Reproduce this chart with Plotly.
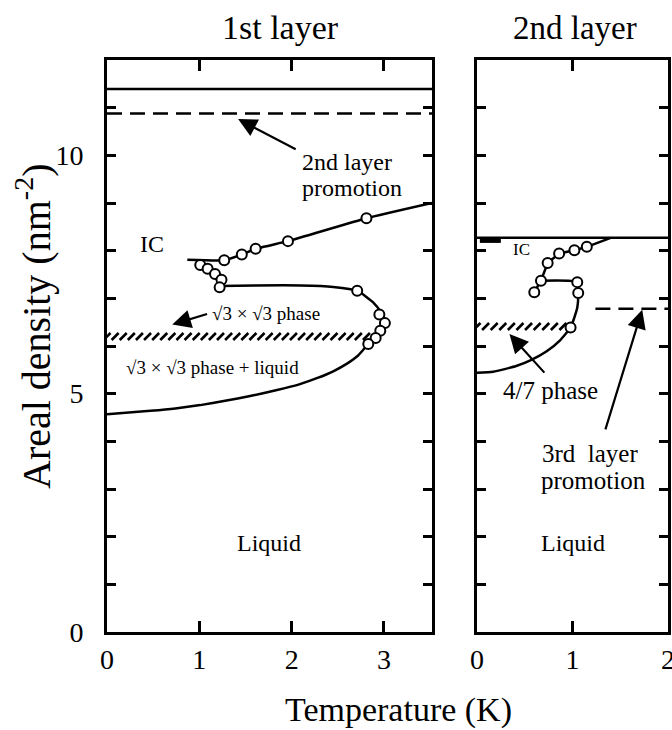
import numpy as np
import plotly.graph_objects as go

FONT = "Liberation Serif, Times New Roman, serif"

# ---------------- 1st layer (left panel) ----------------
L_top_T = [0.0, 3.52]
L_top_n = [11.39, 11.39]
L_promo_T = [0.0, 3.52]
L_promo_n = [10.88, 10.88]

L_ic_T = [0.87, 1.27, 1.46, 1.61, 1.96, 2.81, 3.52]
L_ic_n = [7.81, 7.80, 7.92, 8.04, 8.20, 8.68, 9.0]

L_bound_T = [1.22, 1.6, 2.1, 2.45, 2.71, 2.88, 2.97, 3.02, 2.98, 2.91, 2.83,
             2.72, 2.60, 2.45, 2.28, 2.09, 1.83, 1.55, 1.28, 1.01, 0.74, 0.47, 0.0]
L_bound_n = [7.26, 7.27, 7.27, 7.24, 7.16, 6.92, 6.70, 6.48, 6.32, 6.17, 6.04,
             5.80, 5.63, 5.47, 5.33, 5.20, 5.07, 4.95, 4.85, 4.76, 4.69, 4.64, 4.57]

L_pts_T = [1.27, 1.46, 1.61, 1.96, 2.81, 1.01, 1.09, 1.17, 1.24, 1.22, 2.71, 2.95, 3.01, 2.96, 2.91, 2.83]
L_pts_n = [7.80, 7.92, 8.04, 8.20, 8.68, 7.70, 7.62, 7.51, 7.39, 7.23, 7.16, 6.66, 6.48, 6.32, 6.17, 6.04]

L_hatch_T = [0.0, 2.81]
L_hatch_n = 6.2

# ---------------- 2nd layer (right panel) ----------------
R_top_T = [0.0, 2.0]
R_top_n = [8.27, 8.27]
R_promo_T = [1.24, 2.0]
R_promo_n = [6.78, 6.78]

R_chain_T = [1.40, 1.15, 1.02, 0.86, 0.74, 0.67, 0.60]
R_chain_n = [8.27, 8.08, 8.01, 7.94, 7.74, 7.37, 7.13]

R_bound_T = [0.67, 1.05, 1.06, 1.05, 0.98, 0.87, 0.73, 0.57, 0.41, 0.17, 0.0]
R_bound_n = [7.37, 7.34, 7.11, 6.80, 6.39, 6.12, 5.89, 5.71, 5.58, 5.46, 5.44]

R_pts_T = [1.15, 1.02, 0.86, 0.74, 0.67, 0.60, 1.05, 1.06, 0.98]
R_pts_n = [8.08, 8.01, 7.94, 7.74, 7.37, 7.13, 7.34, 7.11, 6.39]

R_hatch_T = [0.0, 0.9]
R_hatch_n = 6.41
R_stub_T = [0.03, 0.25]
R_stub_n = [8.21, 8.21]

y_ticks = list(range(0, 13))
y_ticktext = ["0", "", "", "", "", "5", "", "", "", "", "10", "", ""]
xL_ticks = [0, 1, 2, 3]
xR_ticks = [0, 1, 2]

fig = go.Figure()

LW = 2.5


def line(T, n, xa, ya, dash="solid", shape="linear", width=LW, smoothing=0.6):
    fig.add_trace(go.Scatter(x=T, y=n, mode="lines", xaxis=xa, yaxis=ya,
                             line=dict(color="black", width=width, dash=dash, shape=shape, smoothing=smoothing),
                             hoverinfo="skip", showlegend=False, cliponaxis=True))


def pts(T, n, xa, ya):
    fig.add_trace(go.Scatter(x=T, y=n, mode="markers", xaxis=xa, yaxis=ya,
                             marker=dict(symbol="circle", size=10, color="white",
                                         line=dict(color="black", width=2)),
                             hoverinfo="skip", showlegend=False))


def hatch(T, n0, xa, ya, spacing):
    k = int(round((T[1] - T[0]) / spacing)) + 1
    xs = np.linspace(T[0], T[1], k)
    fig.add_trace(go.Scatter(x=xs, y=[n0] * k, mode="markers", xaxis=xa, yaxis=ya,
                             marker=dict(symbol="line-ne", size=7, color="black",
                                         line=dict(color="black", width=2.6)),
                             hoverinfo="skip", showlegend=False))


# left
line(L_top_T, L_top_n, "x", "y")
line(L_promo_T, L_promo_n, "x", "y", dash="15px,8px")
line(L_ic_T, L_ic_n, "x", "y", shape="spline", smoothing=0.4)
line(L_bound_T, L_bound_n, "x", "y", shape="spline", smoothing=0.5)
hatch(L_hatch_T, L_hatch_n, "x", "y", 0.087)
pts(L_pts_T, L_pts_n, "x", "y")

# right
line(R_top_T, R_top_n, "x2", "y2")
line(R_promo_T, R_promo_n, "x2", "y2", dash="15px,8px")
line(R_chain_T, R_chain_n, "x2", "y2")
line(R_bound_T, R_bound_n, "x2", "y2", shape="spline", smoothing=0.5)
line(R_stub_T, R_stub_n, "x2", "y2", width=4.5)
hatch(R_hatch_T, R_hatch_n, "x2", "y2", 0.086)
pts(R_pts_T, R_pts_n, "x2", "y2")

axis_common = dict(showline=True, linecolor="black", linewidth=3, mirror="ticks",
                   ticks="inside", tickcolor="black", tickwidth=2.5, showgrid=False,
                   zeroline=False, ticklabeloverflow="allow", automargin=False,
                   tickfont=dict(family=FONT, size=28, color="black"))

fig.update_layout(
    width=672, height=730,
    margin=dict(l=107, r=4, t=60, b=98, autoexpand=False),
    paper_bgcolor="white", plot_bgcolor="white",
    showlegend=False,
    xaxis=dict(domain=[0, 0.5793], range=[0, 3.52], tickmode="array", tickvals=xL_ticks,
               ticklen=11, ticklabelstandoff=0, **axis_common),
    yaxis=dict(domain=[0, 1], range=[0, 12], tickmode="array", tickvals=y_ticks, ticktext=y_ticktext,
               ticklen=9, ticklabelstandoff=15, **axis_common),
    xaxis2=dict(domain=[0.6595, 1.0], range=[0, 2.0], tickmode="array", tickvals=xR_ticks,
                ticklen=11, ticklabelstandoff=0, anchor="y2", **axis_common),
    yaxis2=dict(domain=[0, 1], range=[0, 12], tickmode="array", tickvals=y_ticks,
                ticktext=[""] * len(y_ticks), ticklen=9, anchor="x2", **axis_common),
)

annots = []


def txt(x, y, s, size, xref="x", yref="y", xanchor="center", yanchor="middle", angle=0):
    annots.append(dict(x=x, y=y, xref=xref, yref=yref, text=s, showarrow=False,
                       xanchor=xanchor, yanchor=yanchor, textangle=angle,
                       font=dict(family=FONT, size=size, color="black")))


def arrow(x, y, ax, ay, xref="x", yref="y"):
    annots.append(dict(x=x, y=y, ax=ax, ay=ay, xref=xref, yref=yref, axref=xref, ayref=yref,
                       text="", showarrow=True, arrowhead=2, arrowsize=1.7, arrowwidth=2.2,
                       arrowcolor="black"))


# titles
txt((280 - 107) / 561, (632 - 28) / 572, "1st layer", 34, xref="paper", yref="paper")
txt((575 - 107) / 561, (632 - 28) / 572, "2nd layer", 33, xref="paper", yref="paper")
txt((398 - 107) / 561, (632 - 710) / 572, "Temperature (K)", 34, xref="paper", yref="paper")
txt((33 - 107) / 561, (632 - 327) / 572, "Areal density (nm<sup>-2</sup>)", 40,
    xref="paper", yref="paper", angle=-90)

# left panel labels
txt(2.09, 9.86, "2nd layer", 24, xanchor="left")
txt(2.09, 9.31, "promotion", 24, xanchor="left")
arrow(1.42, 10.76, 2.06, 10.11)
txt(0.49, 8.15, "IC", 24)
txt(1.12, 6.68, "√3 × √3 phase", 19, xanchor="left")
arrow(0.707, 6.45, 1.10, 6.68)
txt(0.18, 5.54, "√3 × √3 phase + liquid", 19, xanchor="left")
txt(1.75, 1.86, "Liquid", 24)

# right panel labels
txt(0.36, 8.02, "IC", 17, xref="x2", yref="y2", xanchor="left")
txt(0.77, 5.06, "4/7 phase", 25, xref="x2", yref="y2")
arrow(0.34, 6.25, 0.72, 5.41, xref="x2", yref="y2")
txt(1.18, 3.74, "3rd  layer", 25, xref="x2", yref="y2")
txt(1.22, 3.18, "promotion", 25, xref="x2", yref="y2")
arrow(1.73, 6.76, 1.34, 4.22, xref="x2", yref="y2")
txt(1.01, 1.86, "Liquid", 24, xref="x2", yref="y2")

fig.update_layout(annotations=annots)

fig.write_html("out.html")
